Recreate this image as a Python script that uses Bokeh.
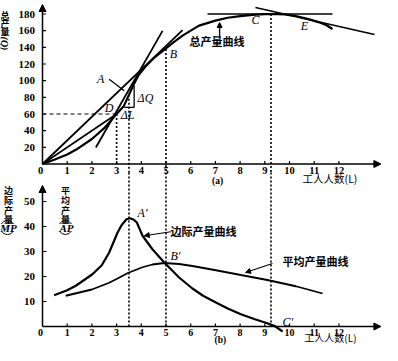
import numpy as np
from bokeh.plotting import figure
from bokeh.models import Range1d, Arrow, NormalHead
from bokeh.core.properties import value
from bokeh.embed import file_html
from bokeh.resources import INLINE

# ---------------- data ----------------
# panel (a): total product curve
labor = [0, 0.5, 1, 1.35, 2, 2.5, 3, 3.3, 3.5, 3.7, 3.9, 4.2, 4.5, 4.86, 5.3,
         5.67, 6.0, 6.34, 7.0, 7.5, 8.0, 8.5, 9.0, 9.25, 9.8, 10.3, 10.8,
         11.2, 11.5, 11.74]
total_product = [0, 5.5, 11.5, 17, 30, 43, 60, 70, 83, 96, 107, 118, 127,
                 135.5, 146, 154, 160, 166, 172, 175.5, 177.5, 179, 179.8, 180,
                 179.5, 177.3, 173.5, 170, 166.5, 162]

# straight lines of panel (a)
ray_L, ray_Q = [0, 5.67], [0, 160.6]            # ray from origin (through A)
chord_L, chord_Q = [0, 3], [0, 60]              # ray from origin to D
steep_L, steep_Q = [2.16, 4.86], [19.8, 159.8]  # tangent at inflection
ctan_L, ctan_Q = [6.68, 11.74], [180, 180]      # tangent at C
etan_L, etan_Q = [8.62, 13.44], [187.8, 155.4]  # tangent at E

# key points
D_L, D_Q = 3, 60
A_L, A_Q = 3.5, 83
B_L, B_Q = 5, 138
C_L, C_Q = 9.25, 180
dq_L = [3.31, 3.71]
dq_Q = [68, 94]

# panel (b): marginal and average product curves
mp_labor = [0.47, 1.0, 1.35, 2.02, 2.4, 2.7, 3.04, 3.2, 3.4, 3.54, 3.7, 3.82,
            4.05, 4.45, 4.93, 5.53, 6.07, 6.5, 7.02, 7.5, 8.03, 8.6, 9.1, 9.4,
            9.72]
marginal_product = [12.5, 14.5, 16.3, 20.9, 24.5, 29.6, 37.6, 40.5, 42.9,
                    43.3, 42.7, 41.6, 36.3, 30.9, 25.6, 19.6, 15.2, 12.3, 9.6,
                    7.2, 4.9, 2.9, 1.3, 0.2, -2.0]
ap_labor = [0.94, 2.0, 2.7, 3.0, 3.48, 4.05, 4.45, 4.93, 5.53, 6.07, 7.02,
            8.03, 9.1, 10.26, 11.34]
average_product = [12.3, 14.8, 17.5, 19.0, 21.5, 23.7, 24.8, 25.4, 25.0,
                   24.2, 22.5, 20.6, 18.6, 16.1, 13.2]

# ticks
x_ticks = list(range(0, 13))
tp_ticks = [20, 40, 60, 80, 100, 120, 140, 160, 180]
mpap_ticks = [10, 20, 30, 40, 50]

# ---------------- figure ----------------
SERIF = value("Liberation Serif")
CJK = value("Noto Sans CJK SC")
DOT = "2 2"

p = figure(width=382, height=345,
           x_range=Range1d(-1.7004, 13.765),
           y_range=Range1d(-217.8, 196.2),
           x_axis_type=None, y_axis_type=None,
           output_backend="svg", toolbar_location=None,
           min_border=0, min_border_left=0, min_border_right=0,
           min_border_top=0, min_border_bottom=0,
           outline_line_color=None, background_fill_color="white",
           border_fill_color="white")
p.extra_y_ranges = {"b": Range1d(-7.6, 130.4)}
p.xgrid.visible = False
p.ygrid.visible = False


def arrow(x0, y0, x1, y1, size=7, width=1.5, rng="default"):
    p.add_layout(Arrow(end=NormalHead(size=size, fill_color="black",
                                      line_color="black", line_width=1),
                       x_start=x0, y_start=y0, x_end=x1, y_end=y1,
                       line_width=width, line_color="black",
                       y_range_name=rng))


# ---------- axes, panel (a) ----------
arrow(0, 0, 13.7, 0)
arrow(0, 0, 0, 191.4)
p.segment(x0=x_ticks[1:], y0=[0] * 12, x1=x_ticks[1:], y1=[3.6] * 12,
          line_color="black", line_width=1.2)
p.segment(x0=[0] * 9, y0=tp_ticks, x1=[0.14] * 9, y1=tp_ticks,
          line_color="black", line_width=1.2)
p.text(x=[-0.3] * 9, y=tp_ticks, text=[str(t) for t in tp_ticks],
       text_font=SERIF, text_font_style="bold", text_font_size="11px",
       text_align="right", text_baseline="middle", text_color="black")
p.text(x=[t - (0.08 if t == 0 else 0) for t in x_ticks], y=[-7.2] * 13,
       text=[str(t) for t in x_ticks],
       text_font=SERIF, text_font_style="bold", text_font_size="10.5px",
       text_align="center", text_baseline="middle", text_color="black")
p.text(x=[-1.52] * 3, y=[178.2, 168.6, 159.0], text=["总", "产", "量"],
       text_font=CJK, text_font_style="bold", text_font_size="9px",
       text_align="center", text_baseline="middle")
p.text(x=[-1.52], y=[144.6], text=["(Q)"], angle=-np.pi / 2,
       text_font=SERIF, text_font_style="bold italic", text_font_size="10px",
       text_align="center", text_baseline="middle")
p.text(x=[7.09], y=[-19.8], text=["(a)"], text_font=SERIF,
       text_font_style="bold", text_font_size="9.5px",
       text_align="center", text_baseline="middle")
p.text(x=[10.53], y=[-17.5], text=["工人人数(L)"], text_font=CJK,
       text_font_size="10.5px", text_align="left", text_baseline="middle")

# ---------- curves and lines, panel (a) ----------
p.line(labor, total_product, line_color="black", line_width=2.2)
p.line(ray_L, ray_Q, line_color="black", line_width=1.8)
p.line(chord_L, chord_Q, line_color="black", line_width=1.6)
p.line(steep_L, steep_Q, line_color="black", line_width=1.8)
p.line(ctan_L, ctan_Q, line_color="black", line_width=1.6)
p.line(etan_L, etan_Q, line_color="black", line_width=1.6)

# delta triangle
p.line([dq_L[0], dq_L[1], dq_L[1]], [dq_Q[0], dq_Q[0], dq_Q[1]],
       line_color="black", line_width=1.3)

# dashed / dotted guides
p.line([0, D_L], [D_Q, D_Q], line_color="black", line_width=1.1,
       line_dash="4 3")
for xv, y0v in [(D_L, D_Q), (A_L, A_Q), (B_L, B_Q), (C_L, C_Q)]:
    p.line([xv, xv], [y0v, 0 if xv == D_L else -10.2], line_color="black",
           line_width=1.6, line_dash=DOT)
for xv in [A_L, B_L, C_L]:
    p.line([xv, xv], [61.6, 0], line_color="black", line_width=1.6,
           line_dash=DOT, y_range_name="b")

# labels, panel (a)
p.text(x=[2.35, 5.3, 8.62, 10.6, 2.7], y=[102, 131.8, 172.7, 165.5, 67.8],
       text=["A", "B", "C", "E", "D"], text_font=SERIF,
       text_font_style="italic", text_font_size="12px",
       text_align="center", text_baseline="middle")
p.text(x=[3.85, 3.17], y=[79.8, 58.4], text=["ΔQ", "ΔL"], text_font=SERIF,
       text_font_style="italic", text_font_size="12px",
       text_align="left", text_baseline="middle")
p.line([2.7, 3.31], [101.8, 87.8], line_color="black", line_width=1.3)
p.text(x=[5.95], y=[147.3], text=["总产量曲线"], text_font=CJK,
       text_font_style="bold", text_font_size="11px",
       text_align="left", text_baseline="middle")
arrow(7.17, 151.8, 7.17, 169.8, size=5, width=1.3)

# ---------- axes, panel (b) ----------
arrow(0, 0, 13.7, 0, rng="b")
arrow(0, 0, 0, 56.4, rng="b")
p.segment(x0=x_ticks[1:], y0=[0] * 12, x1=x_ticks[1:], y1=[1.2] * 12,
          line_color="black", line_width=1.2, y_range_name="b")
p.segment(x0=[0] * 5, y0=mpap_ticks, x1=[0.16] * 5, y1=mpap_ticks,
          line_color="black", line_width=1.2, y_range_name="b")
p.text(x=[-0.3] * 5, y=mpap_ticks, text=[str(t) for t in mpap_ticks],
       text_font=SERIF, text_font_style="bold", text_font_size="11px",
       text_align="right", text_baseline="middle", y_range_name="b")
p.text(x=[t - (0.08 if t == 0 else 0) for t in x_ticks], y=[-2.2] * 13,
       text=[str(t) for t in x_ticks],
       text_font=SERIF, text_font_style="bold", text_font_size="10px",
       text_align="center", text_baseline="middle", y_range_name="b")
p.text(x=[-1.38] * 4, y=[54.4, 50.4, 46.4, 42.8], text=["边", "际", "产", "量"],
       text_font=CJK, text_font_style="bold", text_font_size="9px",
       text_align="center", text_baseline="middle", y_range_name="b")
p.text(x=[0.93] * 4, y=[54.4, 50.4, 46.4, 42.8], text=["平", "均", "产", "量"],
       text_font=CJK, text_font_style="bold", text_font_size="9px",
       text_align="center", text_baseline="middle", y_range_name="b")
p.text(x=[-1.38, 0.97], y=[39.6, 39.6], text=["MP", "AP"], text_font=SERIF,
       text_font_style="bold italic", text_font_size="11px",
       text_align="center", text_baseline="middle", y_range_name="b")
p.arc(x=[-1.42, -1.42, 0.93, 0.93], y=[39.6] * 4, radius=7,
      radius_units="screen",
      start_angle=[np.pi / 6, 7 * np.pi / 6] * 2,
      end_angle=[5 * np.pi / 6, 11 * np.pi / 6] * 2,
      line_color="black", line_width=1, y_range_name="b")
p.text(x=[7.2], y=[-7.4], text=["(b)"], text_font=SERIF,
       text_font_style="bold", text_font_size="9.5px",
       text_align="center", text_baseline="bottom", y_range_name="b")
p.text(x=[10.6], y=[-7.4], text=["工人人数(L)"], text_font=CJK,
       text_font_size="10px", text_align="left", text_baseline="bottom",
       y_range_name="b")

# ---------- curves, panel (b) ----------
p.line(mp_labor, marginal_product, line_color="black", line_width=2.2,
       y_range_name="b")
p.line(ap_labor, average_product, line_color="black", line_width=1.8,
       y_range_name="b")

p.text(x=[3.85, 5.18, 9.72], y=[45.6, 28.3, 1.8], text=["A′", "B′", "C′"],
       text_font=SERIF, text_font_style="italic", text_font_size="12px",
       text_align="left", text_baseline="middle", y_range_name="b")
p.text(x=[5.18], y=[38.3], text=["边际产量曲线"], text_font=CJK,
       text_font_style="bold", text_font_size="11px",
       text_align="left", text_baseline="middle", y_range_name="b")
arrow(5.2, 37.9, 4.12, 36.3, size=5, width=1.2, rng="b")
p.text(x=[9.72], y=[26.4], text=["平均产量曲线"], text_font=CJK,
       text_font_style="bold", text_font_size="11px",
       text_align="left", text_baseline="middle", y_range_name="b")
arrow(9.31, 25.2, 8.22, 21.6, size=5, width=1.2, rng="b")

open("out.html", "w").write(file_html(p, INLINE))
